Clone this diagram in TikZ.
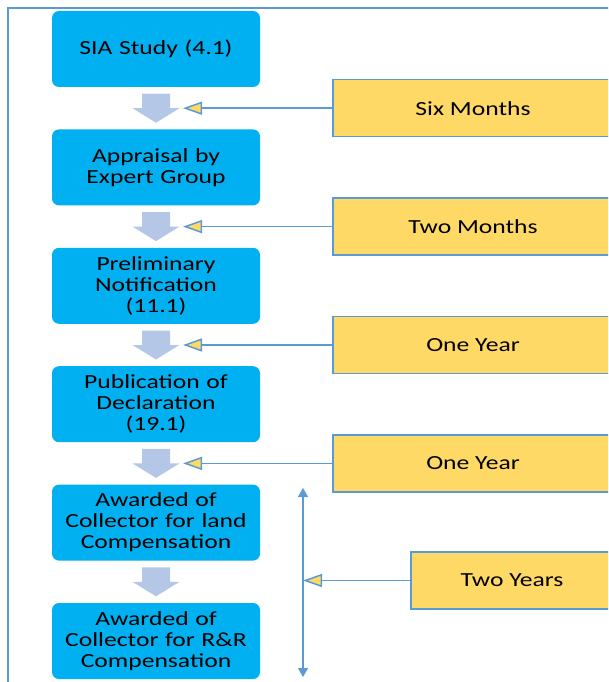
\documentclass[tikz,border=0pt]{standalone}
\usepackage{fontspec}
\setmainfont{Carlito}[FakeStretch=1.28]
\usetikzlibrary{arrows.meta,positioning,calc}
\definecolor{stepblue}{HTML}{00B0F0}
\definecolor{timeyellow}{HTML}{FFD966}
\definecolor{lineblue}{HTML}{5B9BD5}
\definecolor{flowgrey}{HTML}{B4C7E7}
\tikzset{
    %Define style for the stage boxes
    stage/.style={
           rectangle,
           rounded corners=7pt,
           fill=stepblue,
           text width=200pt,
           minimum width=208pt,
           minimum height=76pt,
           inner sep=0pt,
           align=center,
           font=\fontsize{20}{21}\selectfont},
    %Define style for the duration boxes
    period/.style={
           rectangle,
           draw=lineblue,
           line width=1.5pt,
           fill=timeyellow,
           minimum height=57pt,
           font=\fontsize{20}{21}\selectfont},
    % Define arrow style
    pil/.style={
           draw=lineblue,
           line width=1.5pt,
           -{Triangle[length=19pt,width=13pt,fill=timeyellow]}},
    span/.style={
           draw=lineblue,
           line width=1.2pt,
           {Triangle[length=9pt,width=10pt]}-{Triangle[length=9pt,width=10pt]}}
}
% wide grey arrow between two stages
\newcommand\flowdown[2]{%
  \fill[flowgrey] ($(#1.south)!.5!(#2.north)$) ++(-14,-14.5) -- ++(28,0) -- ++(0,14.5)
    -- ++(9.5,0) -- ++(-23.5,14.5) -- ++(-23.5,-14.5) -- ++(9.5,0) -- cycle;}

\begin{document}
\begin{tikzpicture}[x=1pt,y=-1pt,node distance=42pt]
  \useasboundingbox (0,0) rectangle (608,682);
  \clip (0,0) rectangle (608,682);
  \draw[lineblue, line width=2pt] (620,8) -- (8,8) -- (8,690);

  % stages
  \node[stage] (sia) at (156,49) {SIA Study (4.1)};
  \node[stage,below=of sia] (appraisal) {Appraisal by\\Expert Group};
  \node[stage,below=of appraisal] (prelim) {Preliminary\\Notification\\(11.1)};
  \node[stage,below=of prelim] (publication) {Publication of\\Declaration\\(19.1)};
  \node[stage,below=of publication] (landaward) {Awarded of\\Collector for land\\Compensation};
  \node[stage,below=of landaward] (rraward) {Awarded of\\Collector for R\&R\\Compensation};

  \flowdown{sia}{appraisal}
  \flowdown{appraisal}{prelim}
  \flowdown{prelim}{publication}
  \flowdown{publication}{landaward}
  \flowdown{landaward}{rraward}

  % durations
  \coordinate (t1) at ($(sia.south)!.5!(appraisal.north)+(27,0)$);
  \coordinate (t2) at ($(appraisal.south)!.5!(prelim.north)+(27,0)$);
  \coordinate (t3) at ($(prelim.south)!.5!(publication.north)+(27,0)$);
  \coordinate (t4) at ($(publication.south)!.5!(landaward.north)+(27,0)$);
  \coordinate (t5) at (303,580.5);
  \coordinate (spantop) at (303,488);
  \coordinate (spanbot) at (303,677);

  \node[period,minimum width=280pt] (sixmonths) at ($(t1)+(290,0)$) {Six Months};
  \node[period,minimum width=280pt] (twomonths) at ($(t2)+(290,0)$) {Two Months};
  \node[period,minimum width=280pt] (oneyeara) at ($(t3)+(290,0)$) {One Year};
  \node[period,minimum width=280pt] (oneyearb) at ($(t4)+(290,0)$) {One Year};
  \node[period,minimum width=202pt] (twoyears) at ($(t5)+(209,0)$) {Two Years};

  \draw[pil] (sixmonths) -- (t1);
  \draw[pil] (twomonths) -- (t2);
  \draw[pil] (oneyeara) -- (t3);
  \draw[pil] (oneyearb) -- (t4);
  \draw[span] (spantop) -- (spanbot);
  \draw[pil] (twoyears) -- (t5);
\end{tikzpicture}
\end{document}
